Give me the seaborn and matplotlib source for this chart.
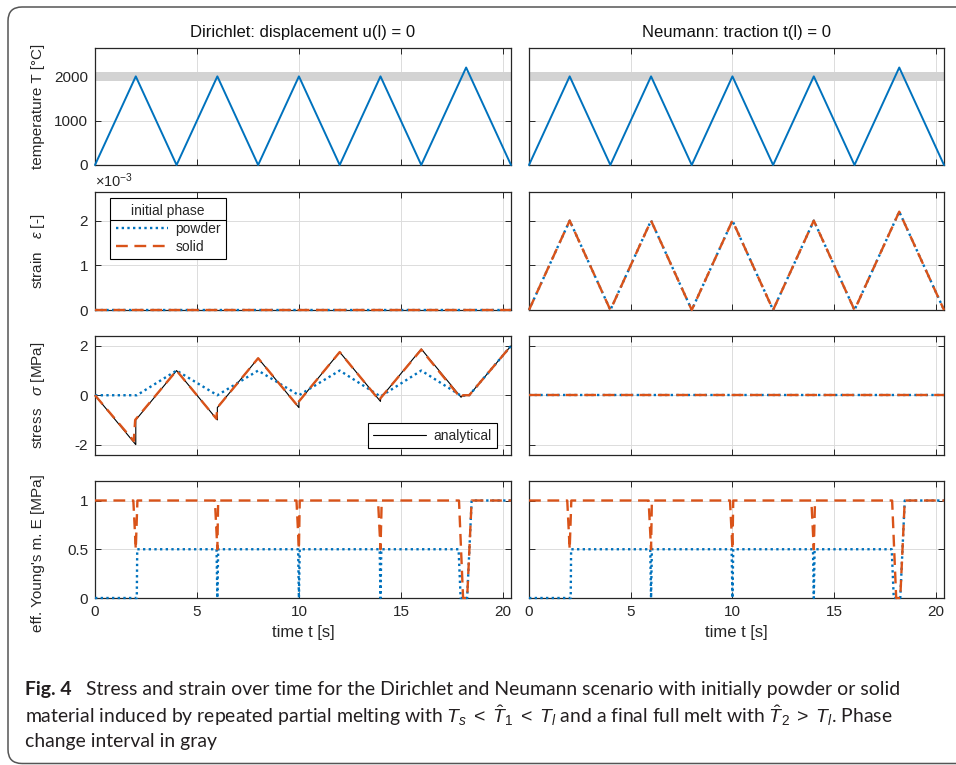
import matplotlib
matplotlib.use("Agg")
import matplotlib.pyplot as plt
import seaborn as sns
import numpy as np
import pandas as pd
from matplotlib.lines import Line2D
from matplotlib.patches import FancyBboxPatch
from matplotlib.transforms import IdentityTransform

# ------------------------------------------------------------------ data
time_T = [0, 2, 4, 6, 8, 10, 12, 14, 16, 18.2, 20.4]
temperature = [0, 2000, 0, 2000, 0, 2000, 0, 2000, 0, 2200, 0]
phase_band = [1900, 2100]

# strain (x 1e-3)
strain_neumann = [0, 2.0, 0, 2.0, 0, 2.0, 0, 2.0, 0, 2.2, 0]
time_flat = [0, 20.4]
flat_zero = [0, 0]

# stress, Dirichlet [MPa]
time_sig_an = [0, 2, 2, 4, 6, 6, 8, 10, 10, 12, 14, 14, 16, 17.95, 18.05, 18.35, 20.4]
sig_analytical = [0, -2, -1, 1, -1, -0.5, 1.5, -0.5, -0.25, 1.75, -0.25, -0.125, 1.875, -0.08, 0, 0, 2.0]
time_sig_solid = [0, 1.9, 1.97, 4, 5.95, 6.0, 8, 9.96, 10.0, 12, 13.96, 14.0, 16, 17.92, 18.05, 18.35, 20.4]
sig_solid = [0, -1.85, -1.0, 1.0, -0.95, -0.5, 1.5, -0.45, -0.25, 1.75, -0.22, -0.12, 1.85, -0.1, 0, 0, 2.0]
time_sig_powder = [0, 2.05, 4, 6, 8, 10, 12, 14, 16, 17.97, 18.35, 20.4]
sig_powder = [0, 0, 1.0, 0, 1.0, 0, 1.0, -0.05, 1.0, -0.03, 0, 2.0]

# effective Young's modulus [MPa]
time_E_solid = [0, 1.88, 2.0, 2.08, 5.88, 6.0, 6.04, 9.88, 10.0, 10.04, 13.88, 14.0, 14.06, 17.85, 18.05, 18.25, 18.47, 20.4]
E_solid = [1, 1, 0.5, 1, 1, 0.5, 1, 1, 0.5, 1, 1, 0.5, 1, 1, 0, 0, 1, 1]
time_E_powder = [0, 2.05, 2.07, 5.96, 6.0, 6.04, 9.96, 10.0, 10.04, 13.96, 14.0, 14.04, 17.83, 17.93, 18.25, 18.47, 20.4]
E_powder = [0, 0, 0.5, 0.5, 0, 0.5, 0.5, 0, 0.5, 0.5, 0, 0.5, 0.5, 0, 0, 1, 1]

col_titles = ["Dirichlet: displacement u(l) = 0", "Neumann: traction t(l) = 0"]
row_labels = ["temperature T [°C]", "strain   $\\epsilon$ [-]", "stress   $\\sigma$ [MPa]", "eff. Young's m. E [MPa]"]
row_ylims = [(0, 2640), (0, 2.64), (-2.4, 2.4), (0, 1.2)]
row_yticks = [[0, 1000, 2000], [0, 1, 2], [-2, 0, 2], [0, 0.5, 1]]
row_yticklabels = [["0", "1000", "2000"], ["0", "1", "2"], ["-2", "0", "2"], ["0", "0.5", "1"]]
x_ticks = [0, 5, 10, 15, 20]
x_lim = (0, 20.4)

caption = [
    ("Fig. 4", "Stress and strain over time for the Dirichlet and Neumann scenario with initially powder or solid"),
    (None, "material induced by repeated partial melting with $T_s\\;<\\;\\hat{T}_1\\;<\\;T_l$ and a final full melt with $\\hat{T}_2\\;>\\;T_l$. Phase"),
    (None, "change interval in gray"),
]

# ------------------------------------------------------------------ style
sns.set_style("ticks")
plt.rcParams.update({
    "font.family": ["Liberation Sans", "DejaVu Sans"],
    "axes.unicode_minus": False,
    "mathtext.fontset": "custom",
    "mathtext.rm": "Liberation Sans",
    "mathtext.it": "Liberation Sans:italic",
    "mathtext.bf": "Liberation Sans:bold",
    "mathtext.fallback": "stixsans",
})

BLUE = "#0072BD"
ORANGE = "#D95319"
STY = {
    "temp": dict(color=BLUE, linestyle="-", linewidth=1.4),
    "powder": dict(color=BLUE, linestyle=(0, (1, 1.4)), linewidth=1.7),
    "solid": dict(color=ORANGE, linestyle=(0, (5, 2.8)), linewidth=1.7),
    "analytical": dict(color="black", linestyle="-", linewidth=0.8),
}


def draw(ax, x, y, kind):
    sns.lineplot(x=x, y=y, ax=ax, estimator=None, sort=False,
                 clip_on=False, zorder=3, **STY[kind])


W, H = 956, 765
fig = plt.figure(figsize=(W / 100, H / 100), dpi=100)
cols = [(95, 511), (529, 944)]
rows = [(48, 165), (192, 310), (336, 454.5), (481, 598)]
axes = [[fig.add_axes([x0 / W, 1 - y1 / H, (x1 - x0) / W, (y1 - y0) / H])
         for (x0, x1) in cols] for (y0, y1) in rows]

for j in range(2):
    ax = axes[0][j]
    ax.axhspan(phase_band[0], phase_band[1], color="#d3d3d3", lw=0, zorder=1.5)
    draw(ax, time_T, temperature, "temp")
    ax = axes[1][j]
    if j == 0:
        draw(ax, time_flat, flat_zero, "powder")
        draw(ax, time_flat, flat_zero, "solid")
    else:
        draw(ax, time_T, strain_neumann, "powder")
        draw(ax, time_T, strain_neumann, "solid")
    ax = axes[2][j]
    if j == 0:
        draw(ax, time_sig_an, sig_analytical, "analytical")
        draw(ax, time_sig_powder, sig_powder, "powder")
        draw(ax, time_sig_solid, sig_solid, "solid")
    else:
        draw(ax, time_flat, flat_zero, "powder")
        draw(ax, time_flat, flat_zero, "solid")
    ax = axes[3][j]
    draw(ax, time_E_powder, E_powder, "powder")
    draw(ax, time_E_solid, E_solid, "solid")

label_centers = [None, None, None, 553]
for i in range(4):
    for j in range(2):
        ax = axes[i][j]
        ax.set_xlim(*x_lim)
        ax.set_ylim(*row_ylims[i])
        ax.set_xticks(x_ticks)
        ax.set_yticks(row_yticks[i])
        ax.grid(True, color="#dcdcdc", lw=0.7, zorder=0)
        ax.set_axisbelow(True)
        for s in ax.spines.values():
            s.set_visible(True)
            s.set_color("#262626")
            s.set_linewidth(0.9)
        ax.tick_params(direction="in", top=True, right=True, length=4, width=0.7,
                       color="#262626", labelsize=11, labelcolor="#262626", pad=5)
        if j == 0:
            ax.set_yticklabels(row_yticklabels[i])
            ax.set_ylabel(row_labels[i], fontsize=11, color="#262626")
            y0, y1 = rows[i]
            yc = label_centers[i] if label_centers[i] else (y0 + y1) / 2
            ax.yaxis.label.set_va("center")
            ax.yaxis.set_label_coords((38 - 95) / 416, (y1 - yc) / (y1 - y0))
        else:
            ax.tick_params(labelleft=False)
            ax.set_ylabel("")
        if i == 3:
            ax.set_xticklabels([str(v) for v in x_ticks])
            ax.set_xlabel("time t [s]", fontsize=12, color="#262626")
            ax.xaxis.label.set_va("center")
            ax.xaxis.set_label_coords(0.5, (598 - 632) / 117)
        else:
            ax.tick_params(labelbottom=False)
            ax.set_xlabel("")
        if i == 0:
            ax.set_title(col_titles[j], fontsize=12, pad=8, color="#111111")

axes[1][0].text(0.0, 1.015, "×10$^{-3}$", transform=axes[1][0].transAxes,
                ha="left", va="bottom", fontsize=10.5, color="#262626")

# legends
h_powder = Line2D([], [], **STY["powder"])
h_solid = Line2D([], [], **STY["solid"])
h_an = Line2D([], [], **STY["analytical"])
leg_kw = dict(fontsize=10, frameon=True, fancybox=False, edgecolor="black",
              framealpha=1, borderpad=0.4, handlelength=3.8, handletextpad=0.5,
              borderaxespad=0)
leg1 = axes[1][0].legend([h_powder, h_solid], ["powder", "solid"], title="initial phase",
                         title_fontsize=10, loc="upper left",
                         bbox_to_anchor=((110 - 95) / 416, (310 - 198) / 118),
                         labelspacing=0.3, **leg_kw)
leg1.get_frame().set_linewidth(0.8)
leg2 = axes[2][0].legend([h_an], ["analytical"], loc="lower right",
                         bbox_to_anchor=((496.7 - 95) / 416, (454.5 - 448.3) / 118.5),
                         **leg_kw)
leg2.get_frame().set_linewidth(0.8)

# outer frame
frame = FancyBboxPatch((8, 1.5), 1200, 765 - 7 - 1.5,
                       boxstyle="round,pad=0,rounding_size=14",
                       transform=IdentityTransform(), fill=False,
                       edgecolor="#555555", lw=1.1)
fig.add_artist(frame)

# caption
cap_font = ["Lato", "Liberation Sans", "DejaVu Sans"]
cap_y = [690, 716, 742]
cap_x0 = 25
texts = []
fs0 = 12
for k, (bold, rest) in enumerate(caption):
    yb = 1 - cap_y[k] / H
    tb = None
    if bold:
        tb = fig.text(cap_x0 / W, yb, bold, fontsize=fs0, fontweight="bold",
                      family=cap_font, va="center", ha="left", color="#231f20")
    tr = fig.text(cap_x0 / W, yb, rest, fontsize=fs0, family=cap_font,
                  va="center", ha="left", color="#231f20")
    texts.append((tb, tr))

fig.canvas.draw()
r = fig.canvas.get_renderer()
tb, tr = texts[0]
wb = tb.get_window_extent(r).width
wr = tr.get_window_extent(r).width
gap = 0.75 * fs0 * 100 / 72
scale = (898 - cap_x0) / (wb + gap + wr)
fs = fs0 * scale
for tb_, tr_ in texts:
    if tb_ is not None:
        tb_.set_fontsize(fs)
    tr_.set_fontsize(fs)
fig.canvas.draw()
wb = texts[0][0].get_window_extent(r).width
gap = 0.75 * fs * 100 / 72
texts[0][1].set_x((cap_x0 + wb + gap) / W)

# separator line under the legend title
fig.canvas.draw()
tbb = leg1.get_title().get_window_extent(r)
e0 = leg1.get_texts()[0].get_window_extent(r)
fb = leg1.get_frame().get_window_extent(r)
ysep = (tbb.y0 + e0.y1) / 2
fig.add_artist(Line2D([fb.x0, fb.x1], [ysep, ysep], transform=IdentityTransform(),
                      color="black", lw=0.8, zorder=10))

fig.savefig("out.png", dpi=100)
